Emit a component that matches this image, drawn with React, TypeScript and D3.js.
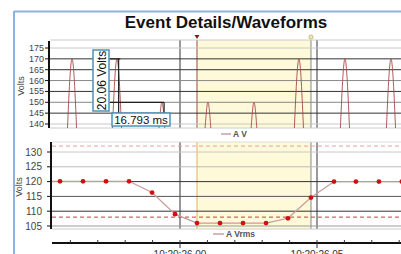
import React from "react";
import { scaleLinear, line as Line, curveNatural } from "d3";

// waveform peaks, ms relative to 10:20:26.00
const peakTimes = [-39.4, -23.0, -6.6, 10.2, 27.0, 43.4, 60.2, 77.0];
const peakVolts = [170, 170, 150, 150, 150, 170, 170, 170];
const peakHalfWidths = [1.7, 1.7, 1.1, 1.1, 1.1, 1.7, 1.7, 1.7];

// rms points
const rmsTimes = [-52.1, -43.8, -35.4, -27.0, -18.6, -10.2, -1.8, 6.2, 14.6, 23.0, 31.4, 39.4, 47.8, 56.2, 64.2, 72.6, 81.0];
const rmsVolts = [120.1, 120.1, 120.1, 120.1, 120.1, 116.3, 109.0, 106.0, 106.0, 106.0, 106.0, 107.6, 114.6, 120.0, 120.0, 120.0, 120.0];

const topTicks = [175, 170, 165, 160, 155, 150, 145, 140];
const topGridShade = ["#c8c8c8", "#333", "#333", "#888", "#333", "#888", "#333", "#c8c8c8"];
const bottomTicks = [130, 125, 120, 115, 110, 105];
const bottomGridShade = ["#c8c8c8", "#bbb", "#333", "#555", "#333", "#999"];
const limitHigh = 132;
const limitLow = 108;

const timeTicks = [-40, -30, -20, -10, 0, 10, 20, 30, 40, 50, 60, 70, 80];
const timeLabels: Record<number, string> = { 0: "10:20:26.00", 50: "10:20:26.05" };
const majorTimes = [0, 50];
const cursorA = 6.2;
const cursorB = 47.8;

// measurement annotation
const measureVolts = "20.06 Volts";
const measureTime = "16.793 ms";

const W = 401;
const H = 254;
const font = "Arial, 'Liberation Sans', sans-serif";

export default function App() {
  const x = scaleLinear().domain([0, 50]).range([180, 317]);
  const yTop = scaleLinear().domain([140, 175]).range([124, 48]);
  const yBot = scaleLinear().domain([105, 130]).range([226, 152]);

  const top = { x0: 50, x1: W, y0: 40, y1: 128 };
  const bot = { x0: 52, x1: W, y0: 142, y1: 229 };

  const pulse = Line<[number, number]>()
    .x((d) => x(d[0]))
    .y((d) => yTop(d[1]))
    .curve(curveNatural);

  const rmsLine = Line<number>()
    .x((_, i) => x(rmsTimes[i]))
    .y((d) => yBot(d));

  const verticals = (p: typeof top, cursorColor: string) => (
    <g>
      <rect x={x(cursorA)} y={p.y0} width={x(cursorB) - x(cursorA)} height={p.y1 - p.y0} fill="#fdf9d9" />
      {majorTimes.map((t) => (
        <line key={t} x1={x(t)} x2={x(t)} y1={p.y0} y2={p.y1} stroke="#555" strokeWidth={1.2} />
      ))}
      <line x1={x(cursorA)} x2={x(cursorA)} y1={p.y0} y2={p.y1} stroke={cursorColor} strokeWidth={1} />
      <line x1={x(cursorB)} x2={x(cursorB)} y1={p.y0} y2={p.y1} stroke="#999" strokeWidth={1.2} />
    </g>
  );

  return (
    <svg width={W} height={H} style={{ position: "absolute", left: 0, top: 0, background: "#fff" }} fontFamily={font}>
      <defs>
        <clipPath id="clipTop">
          <rect x={top.x0} y={top.y0} width={top.x1 - top.x0} height={top.y1 - top.y0} />
        </clipPath>
        <clipPath id="clipBot">
          <rect x={bot.x0} y={bot.y0} width={bot.x1 - bot.x0} height={bot.y1 - bot.y0} />
        </clipPath>
      </defs>

      {/* frame */}
      <line x1={14} x2={W} y1={11.5} y2={11.5} stroke="#8fb2dc" strokeWidth={2} />
      <line x1={14} x2={14} y1={11} y2={H} stroke="#8fb2dc" strokeWidth={2} />

      <text x={226} y={28} textAnchor="middle" fontSize={17} fontWeight="bold" fill="#111">
        Event Details/Waveforms
      </text>

      {/* top panel */}
      {verticals(top, "#9a4a4a")}
      <line x1={top.x0} x2={top.x1} y1={top.y0} y2={top.y0} stroke="#ccc" />
      <line x1={top.x0} x2={top.x1} y1={top.y1} y2={top.y1} stroke="#ccc" />
      {topTicks.map((v, i) => (
        <line key={v} x1={top.x0} x2={top.x1} y1={yTop(v)} y2={yTop(v)} stroke={topGridShade[i]} strokeWidth={1} />
      ))}
      <g clipPath="url(#clipTop)">
        {peakTimes.map((t, i) => (
          <path
            key={t}
            d={
              pulse([
                [t - peakHalfWidths[i], 137],
                [t, peakVolts[i]],
                [t + peakHalfWidths[i], 137],
              ]) as string
            }
            fill="none"
            stroke="#a84848"
            strokeWidth={0.9}
          />
        ))}
      </g>

      {/* measurement */}
      <g stroke="#222" strokeWidth={1.2}>
        <line x1={x(-25.6)} x2={x(-21.8)} y1={yTop(170)} y2={yTop(170)} />
        <line x1={x(-22.4)} x2={x(-22.4)} y1={yTop(170)} y2={113} />
        <line x1={x(-25.6)} x2={x(-5.8)} y1={yTop(150)} y2={yTop(150)} />
        <line x1={x(-5.8)} x2={x(-5.8)} y1={yTop(150)} y2={113} />
      </g>
      <rect x={93} y={50} width={16} height={61} fill="#fff" stroke="#4a93b8" strokeWidth={1.5} />
      <text transform="translate(105.5,80.5) rotate(-90)" textAnchor="middle" fontSize={12} fill="#111">
        {measureVolts}
      </text>
      <rect x={112} y={113} width={58} height={13} fill="#fff" stroke="#4a93b8" strokeWidth={1.5} />
      <text x={141} y={123.5} textAnchor="middle" fontSize={11.5} fill="#111">
        {measureTime}
      </text>

      {/* cursor markers */}
      <path d={`M${x(cursorA) - 2.5},35 L${x(cursorA) + 2.5},35 L${x(cursorA)},39 Z`} fill="#8b1a1a" />
      <circle cx={x(cursorB)} cy={37} r={2} fill="#f5eeb0" stroke="#b8a860" strokeWidth={0.8} />

      {/* top y axis */}
      <line x1={49} x2={49} y1={top.y0 + 1} y2={top.y1} stroke="#111" strokeWidth={2} />
      {topTicks.map((v) => (
        <g key={v}>
          <line x1={45} x2={49} y1={yTop(v)} y2={yTop(v)} stroke="#111" />
          <text x={44} y={yTop(v) + 3} textAnchor="end" fontSize={9} fill="#444">
            {v}
          </text>
        </g>
      ))}
      <text transform="translate(24,86) rotate(-90)" textAnchor="middle" fontSize={9} fill="#444">
        Volts
      </text>

      {/* top legend */}
      <line x1={221} x2={231} y1={134} y2={134} stroke="#b07070" strokeWidth={1} />
      <text x={233} y={137} fontSize={8.5} fontWeight="bold" fill="#555">
        A V
      </text>

      {/* bottom panel */}
      {verticals(bot, "#e0b060")}
      <line x1={bot.x0} x2={bot.x1} y1={bot.y0} y2={bot.y0} stroke="#ddd" />
      <line x1={bot.x0} x2={bot.x1} y1={bot.y1} y2={bot.y1} stroke="#ccc" />
      {bottomTicks.map((v, i) => (
        <line key={v} x1={bot.x0} x2={bot.x1} y1={yBot(v)} y2={yBot(v)} stroke={bottomGridShade[i]} strokeWidth={1} />
      ))}
      <line x1={bot.x0} x2={bot.x1} y1={yBot(limitHigh)} y2={yBot(limitHigh)} stroke="#e0a0a0" strokeDasharray="4,3" />
      <line x1={bot.x0} x2={bot.x1} y1={yBot(limitLow)} y2={yBot(limitLow)} stroke="#c04040" strokeDasharray="4,3" />
      <g clipPath="url(#clipBot)">
        <path d={rmsLine(rmsVolts) as string} fill="none" stroke="#c79a9a" strokeWidth={1.2} />
        {rmsVolts.map((v, i) => (
          <circle key={i} cx={x(rmsTimes[i])} cy={yBot(v)} r={2.4} fill="#d01010" />
        ))}
      </g>

      {/* bottom y axis */}
      <line x1={51} x2={51} y1={bot.y0} y2={bot.y1} stroke="#111" strokeWidth={2} />
      {bottomTicks.map((v) => (
        <g key={v}>
          <line x1={47} x2={51} y1={yBot(v)} y2={yBot(v)} stroke="#111" />
          <text x={42} y={yBot(v) + 3.5} textAnchor="end" fontSize={10} fill="#444">
            {v}
          </text>
        </g>
      ))}
      <text transform="translate(22,187) rotate(-90)" textAnchor="middle" fontSize={9} fill="#444">
        Volts
      </text>

      {/* bottom legend */}
      <line x1={213} x2={224} y1={234} y2={234} stroke="#b07070" strokeWidth={1} />
      <text x={226} y={237} fontSize={8.5} fontWeight="bold" fill="#555">
        A Vrms
      </text>

      {/* time axis */}
      <line x1={52} x2={W} y1={243} y2={243} stroke="#111" strokeWidth={2} />
      {timeTicks.map((t) => (
        <g key={t}>
          <line
            x1={x(t)}
            x2={x(t)}
            y1={240}
            y2={majorTimes.includes(t) ? 248 : 243}
            stroke="#333"
            strokeWidth={1}
          />
          {timeLabels[t] && (
            <text x={x(t)} y={258} textAnchor="middle" fontSize={10} fill="#333">
              {timeLabels[t]}
            </text>
          )}
        </g>
      ))}
    </svg>
  );
}
